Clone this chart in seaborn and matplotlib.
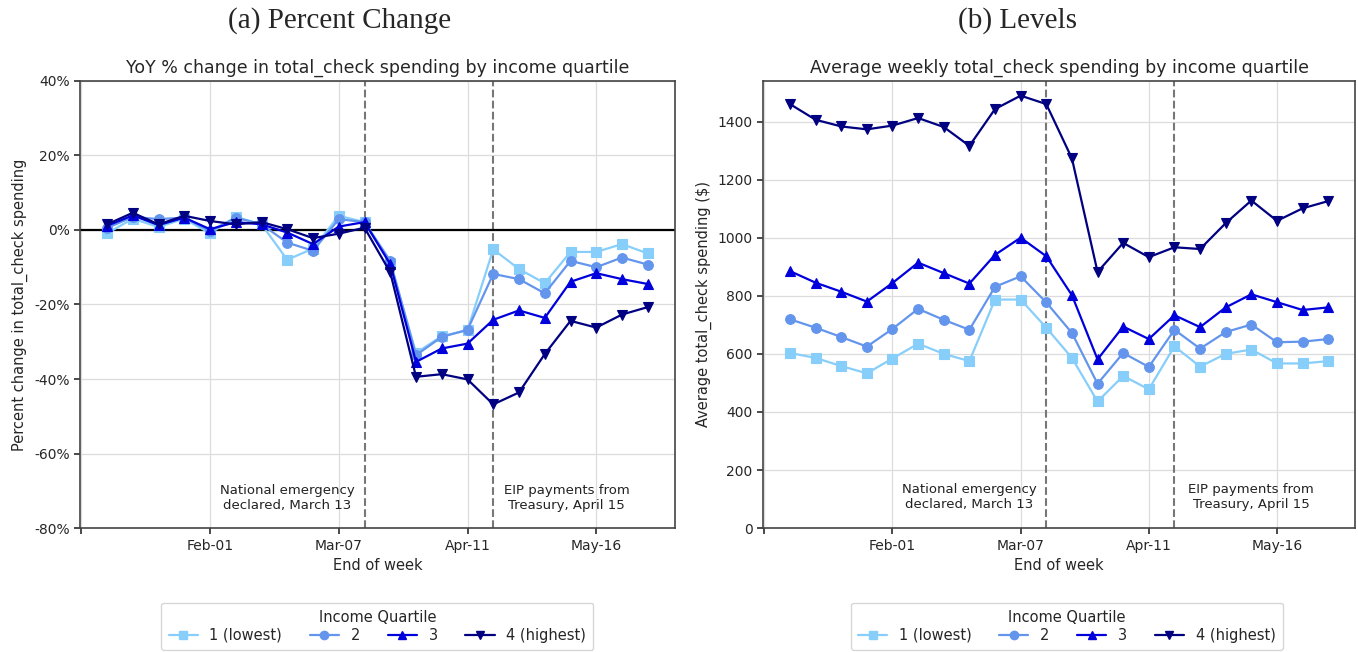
import matplotlib
matplotlib.use('Agg')
import matplotlib.pyplot as plt
import matplotlib.ticker as mticker
import seaborn as sns
import pandas as pd

week_ends = ['2020-01-04', '2020-01-11', '2020-01-18', '2020-01-25', '2020-02-01',
             '2020-02-08', '2020-02-15', '2020-02-22', '2020-02-29', '2020-03-07',
             '2020-03-14', '2020-03-21', '2020-03-28', '2020-04-04', '2020-04-11',
             '2020-04-18', '2020-04-25', '2020-05-02', '2020-05-09', '2020-05-16',
             '2020-05-23', '2020-05-30']
quartiles = ['1 (lowest)', '2', '3', '4 (highest)']

pct_q1 = [-0.9, 3.0, 0.8, 3.0, -0.9, 3.5, 1.5, -8.0, -5.0, 3.8, 2.1, -9.0, -33.0, -28.5, -26.9, -5.2, -10.5, -14.3, -5.9, -5.9, -3.8, -6.3]
pct_q2 = [0.5, 3.5, 2.9, 3.3, -0.3, 3.3, 1.5, -3.4, -5.6, 2.9, 2.1, -8.3, -33.6, -28.7, -26.8, -11.8, -13.2, -17.0, -8.3, -10.0, -7.4, -9.3]
pct_q3 = [1.1, 3.9, 1.3, 3.3, 0.2, 2.1, 1.5, -0.7, -3.8, 0.9, 2.1, -9.2, -35.4, -31.8, -30.5, -24.1, -21.6, -23.6, -13.9, -11.6, -13.2, -14.5]
pct_q4 = [1.5, 4.6, 1.5, 3.8, 2.4, 1.5, 2.1, 0.2, -2.2, -1.0, 0.6, -11.4, -39.4, -38.7, -40.1, -46.8, -43.6, -33.3, -24.4, -26.2, -22.7, -20.7]

lvl_q1 = [603, 586, 558, 533, 584, 635, 600, 575, 787, 787, 690, 586, 436, 524, 478, 626, 556, 600, 615, 567, 567, 575]
lvl_q2 = [719, 690, 658, 625, 686, 755, 717, 683, 831, 867, 777, 672, 497, 603, 555, 683, 618, 675, 701, 640, 642, 651]
lvl_q3 = [885, 845, 814, 780, 844, 914, 878, 842, 941, 1000, 936, 802, 581, 694, 651, 733, 692, 760, 805, 778, 751, 760]
lvl_q4 = [1460, 1406, 1383, 1373, 1386, 1412, 1381, 1316, 1443, 1489, 1460, 1273, 882, 982, 933, 967, 961, 1050, 1128, 1058, 1101, 1126]

tick_dates = ['2019-12-28', '2020-02-01', '2020-03-07', '2020-04-11', '2020-05-16']
tick_labels = ['', 'Feb-01', 'Mar-07', 'Apr-11', 'May-16']
event_dates = ['2020-03-14', '2020-04-18']

colors = ['#87CEFA', '#6495ED', '#0000DD', '#000080']
markers = ['s', 'o', '^', 'v']

sns.set_theme(style='ticks')
plt.rcParams['font.family'] = ['DejaVu Sans']

dates = pd.to_datetime(week_ends)


def long_df(series):
    frames = []
    for q, vals in zip(quartiles, series):
        frames.append(pd.DataFrame({'week': dates, 'value': vals, 'quartile': q}))
    return pd.concat(frames, ignore_index=True)


pct_df = long_df([pct_q1, pct_q2, pct_q3, pct_q4])
lvl_df = long_df([lvl_q1, lvl_q2, lvl_q3, lvl_q4])

fig = plt.figure(figsize=(13.58, 6.52), dpi=100)
ax1 = fig.add_axes([0.0589, 0.190, 0.438, 0.686])
ax2 = fig.add_axes([0.5619, 0.190, 0.436, 0.686])

palette = dict(zip(quartiles, colors))
mk = dict(zip(quartiles, markers))

x0 = dates[0] - pd.Timedelta(days=7.35)
x1 = dates[-1] + pd.Timedelta(days=7.35)

for ax, df in [(ax1, pct_df), (ax2, lvl_df)]:
    ax.grid(True, color='#dcdcdc', linewidth=0.9, zorder=0)
    sns.lineplot(data=df, x='week', y='value', hue='quartile', style='quartile',
                 palette=palette, markers=mk, dashes=False, linewidth=1.6,
                 markersize=7, ax=ax, legend=False, zorder=3)
    for ln in ax.lines:
        ln.set_markeredgecolor(ln.get_color())
        ln.set_markeredgewidth(0.8)
    for d in event_dates:
        ax.axvline(pd.Timestamp(d), color='#777777', linestyle='--', linewidth=1.5, zorder=2)
    ax.set_xlim(x0, x1)
    ax.set_xticks(pd.to_datetime(tick_dates))
    ax.set_xticklabels(tick_labels)
    ax.set_xlabel('End of week', fontsize=10.5)
    ax.tick_params(axis='both', labelsize=10, length=4, color='#333333')
    for s in ax.spines.values():
        s.set_color('#444444')
        s.set_linewidth(1.2)
    handles = []
    for q, c, m in zip(quartiles, colors, markers):
        h, = ax.plot([], [], color=c, marker=m, markersize=6, linewidth=1.6)
        handles.append(h)
    leg = ax.legend(handles, quartiles, title='Income Quartile', ncol=4,
                    loc='upper center',
                    bbox_to_anchor=(0.5 if ax is ax1 else 0.513, -0.15),
                    fontsize=10.5, title_fontsize=10.5, frameon=True,
                    columnspacing=1.9, handlelength=2.0, borderpad=0.5,
                    labelspacing=0.2, handletextpad=0.8)
    leg.get_frame().set_edgecolor('#cccccc')

# Left panel
ax1.axhline(0, color='black', linewidth=1.6, zorder=2.5)
ax1.set_ylim(-80, 40)
ax1.set_yticks([-80, -60, -40, -20, 0, 20, 40])
ax1.yaxis.set_major_formatter(mticker.FuncFormatter(lambda v, p: f'{v:.0f}%'))
ax1.set_ylabel('Percent change in total_check spending', fontsize=10.5)
ax1.set_title('YoY % change in total_check spending by income quartile', fontsize=12.5)
ax1.text(pd.Timestamp('2020-02-22'), -72, 'National emergency\ndeclared, March 13',
         ha='center', va='center', fontsize=9.5, color='#222222')
ax1.text(pd.Timestamp('2020-05-08'), -72, 'EIP payments from\nTreasury, April 15',
         ha='center', va='center', fontsize=9.5, color='#222222')

# Right panel
ax2.set_ylim(0, 1540)
ax2.set_yticks([0, 200, 400, 600, 800, 1000, 1200, 1400])
ax2.set_ylabel('Average total_check spending ($)', fontsize=10.5)
ax2.set_title('Average weekly total_check spending by income quartile', fontsize=12.5)
ax2.text(pd.Timestamp('2020-02-22'), 107, 'National emergency\ndeclared, March 13',
         ha='center', va='center', fontsize=9.5, color='#222222')
ax2.text(pd.Timestamp('2020-05-09'), 107, 'EIP payments from\nTreasury, April 15',
         ha='center', va='center', fontsize=9.5, color='#222222')

fig.text(0.25, 0.968, '(a) Percent Change', ha='center', va='center',
         fontsize=21, family=['Liberation Serif', 'DejaVu Serif'])
fig.text(0.749, 0.968, '(b) Levels', ha='center', va='center',
         fontsize=21, family=['Liberation Serif', 'DejaVu Serif'])

fig.savefig('out.png', dpi=100)
